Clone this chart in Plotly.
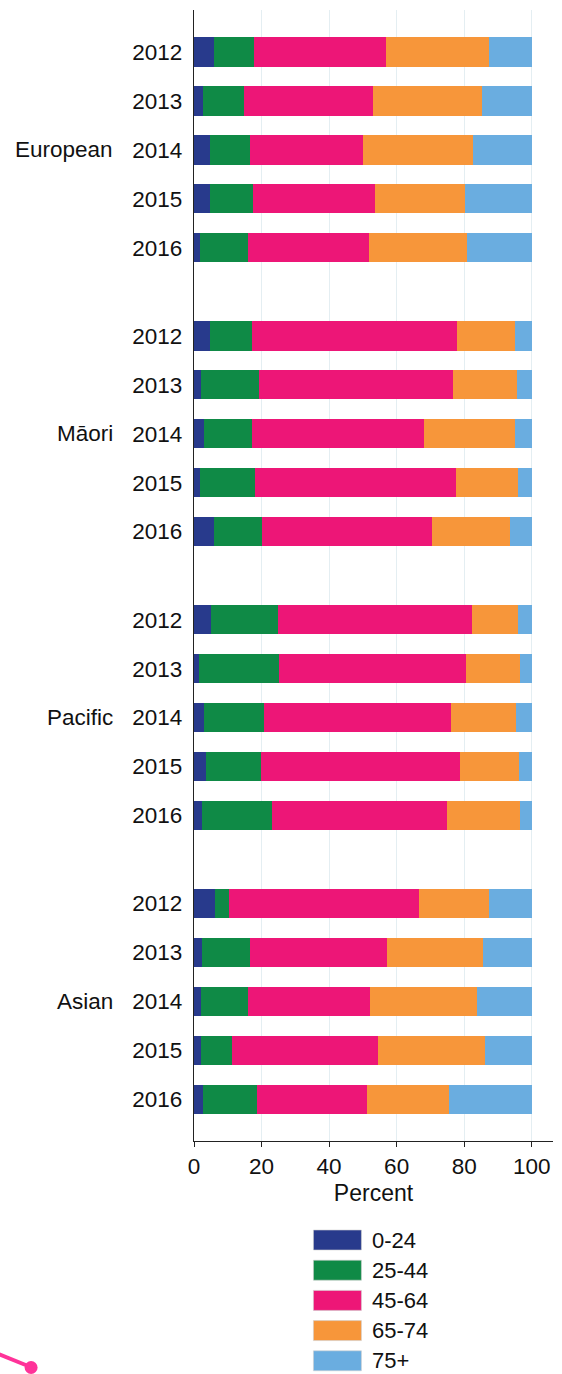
import plotly.graph_objects as go

groups = ["European", "Māori", "Pacific", "Asian"]
years = ["2012", "2013", "2014", "2015", "2016"]
age_groups = ["0-24", "25-44", "45-64", "65-74", "75+"]
colors = ["#283A8C", "#0F8A46", "#ED1677", "#F7963A", "#6AADE0"]

# values per age group, ordered European 2012..2016, Māori ..., Pacific ..., Asian ...
v_0_24 = [5.9, 2.6, 4.7, 4.7, 1.9,
          4.7, 2.1, 3.0, 1.7, 5.9,
          5.1, 1.6, 2.9, 3.6, 2.5,
          6.2, 2.4, 2.2, 2.2, 2.7]
v_25_44 = [11.8, 12.3, 11.9, 12.7, 14.1,
           12.4, 17.0, 14.2, 16.3, 14.1,
           19.8, 23.7, 17.9, 16.3, 20.7,
           4.1, 14.2, 13.7, 9.0, 16.1]
v_45_64 = [39.2, 38.0, 33.3, 36.2, 35.9,
           60.7, 57.7, 51.0, 59.6, 50.5,
           57.3, 55.1, 55.2, 59.0, 51.7,
           56.3, 40.4, 36.2, 43.2, 32.4]
v_65_74 = [30.4, 32.4, 32.7, 26.6, 28.8,
           17.3, 18.8, 26.7, 18.2, 23.2,
           13.6, 16.0, 19.4, 17.2, 21.5,
           20.7, 28.5, 31.7, 31.8, 24.3]
v_75p = [12.7, 14.7, 17.4, 19.8, 19.3,
         4.9, 4.4, 5.1, 4.2, 6.3,
         4.2, 3.6, 4.6, 3.9, 3.6,
         12.7, 14.5, 16.2, 13.8, 24.5]
series = [v_0_24, v_25_44, v_45_64, v_65_74, v_75p]

GAP = 0.8
pos = []
labels = []
for gi, g in enumerate(groups):
    for yi, yr in enumerate(years):
        pos.append(gi * (5 + GAP) + yi)
        labels.append(yr)

FONT = "Liberation Sans, Arial, sans-serif"
TXT = "#111111"
fig = go.Figure()
for name, vals, col in zip(age_groups, series, colors):
    fig.add_trace(go.Bar(x=vals, y=pos, orientation="h", name=name,
                         marker=dict(color=col, line=dict(width=0)),
                         showlegend=False))

L, R, T, B = 193.5, 9.3, 10, 233
W, H = 562, 1374
pw = W - L - R
ph = H - T - B

def px(x):
    return (x - L) / pw

def py(y):
    return (H - B - y) / ph

shapes = []
annotations = []
for gi, g in enumerate(groups):
    annotations.append(dict(x=px(114), y=gi * (5 + GAP) + 2, xref="paper", yref="y",
                            text=g, showarrow=False, xanchor="right", yanchor="middle",
                            font=dict(size=22.5, color=TXT, family=FONT)))

# legend (manual, large swatches)
for i, (name, col) in enumerate(zip(age_groups, colors)):
    top = 1230 + i * 30.2
    shapes.append(dict(type="rect", xref="paper", yref="paper",
                       x0=px(313), x1=px(361), y0=py(top), y1=py(top + 20),
                       fillcolor=col, line=dict(width=0.6, color="#d0d0d0")))
    annotations.append(dict(x=px(370), y=py(top + 10), xref="paper", yref="paper",
                            text=name, showarrow=False, xanchor="left", yanchor="middle",
                            font=dict(size=22, color=TXT, family=FONT)))

# decorative pink pointer at bottom-left
shapes.append(dict(type="line", xref="paper", yref="paper",
                   x0=px(-2), y0=py(1354), x1=px(30), y1=py(1367),
                   line=dict(color="#FF3399", width=4)))
shapes.append(dict(type="circle", xref="paper", yref="paper",
                   x0=px(24), x1=px(37), y0=py(1361), y1=py(1374),
                   fillcolor="#FF3399", line=dict(width=0)))

fig.update_layout(
    width=W, height=H,
    margin=dict(l=L, r=R, t=T, b=B),
    barmode="stack", bargap=0.4,
    plot_bgcolor="white", paper_bgcolor="white",
    font=dict(family=FONT, size=22, color=TXT),
    shapes=shapes, annotations=annotations,
    xaxis=dict(range=[0, 106.3], tickvals=[0, 20, 40, 60, 80, 100],
               showgrid=True, gridcolor="#E4EEF2", gridwidth=1,
               showline=True, linecolor="#222222", linewidth=1.2,
               ticks="outside", ticklen=5, tickcolor="#222222",
               tickfont=dict(size=22.5), zeroline=False,
               title=dict(text="Percent", font=dict(size=23), standoff=6)),
    yaxis=dict(range=[3 * (5 + GAP) + 4 + 0.852, -0.858],
               tickvals=pos, ticktext=labels, tickfont=dict(size=22.5),
               showgrid=False, zeroline=False,
               showline=True, linecolor="#222222", linewidth=1.2,
               ticks="", ticklabelstandoff=6),
)

fig.write_html("out.html", config={"displayModeBar": False},
               post_script="document.body.style.margin='0';document.body.style.overflow='hidden';")
